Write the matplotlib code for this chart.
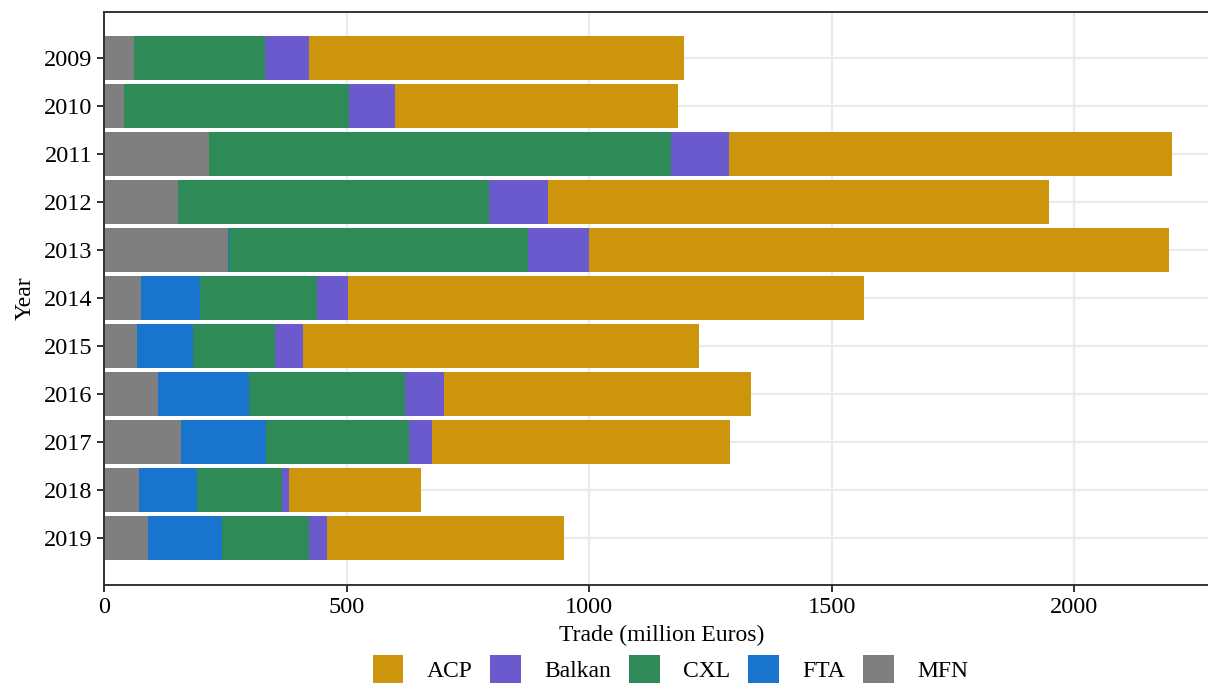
import matplotlib
matplotlib.use("Agg")
import matplotlib.pyplot as plt
import numpy as np

plt.rcParams['font.family'] = ['Liberation Serif', 'DejaVu Serif']

# data (million Euros)
years = ['2009', '2010', '2011', '2012', '2013', '2014', '2015', '2016', '2017', '2018', '2019']
mfn = [62, 41, 216, 153, 255, 76, 68, 111, 159, 72, 91]
fta = [0, 0, 0, 0, 3, 121, 116, 188, 174, 120, 152]
cxl = [270, 464, 953, 641, 616, 242, 169, 322, 296, 174, 180]
balkan = [91, 95, 120, 122, 126, 64, 57, 80, 47, 15, 37]
acp = [773, 582, 913, 1031, 1194, 1064, 817, 633, 615, 273, 489]

groups = ['ACP', 'Balkan', 'CXL', 'FTA', 'MFN']
colors = {'ACP': '#CD950C', 'Balkan': '#6A5ACD', 'CXL': '#2E8B57',
          'FTA': '#1874CD', 'MFN': '#7F7F7F'}
series = {'MFN': mfn, 'FTA': fta, 'CXL': cxl, 'Balkan': balkan, 'ACP': acp}

fig = plt.figure(figsize=(12.08, 6.84), dpi=100)
ax = fig.add_axes([104 / 1208, 99 / 684, 1116 / 1208, 573 / 684])

y = np.arange(len(years))
left = np.zeros(len(years))
bars = {}
for name in ['MFN', 'FTA', 'CXL', 'Balkan', 'ACP']:
    vals = np.array(series[name], dtype=float)
    bars[name] = ax.barh(y, vals, left=left, height=0.9, color=colors[name],
                         edgecolor='none', zorder=2)
    left += vals

ax.set_xlim(0, 2300)
ax.set_ylim(len(years) - 1 + 0.98, -0.96)
ax.set_yticks(y)
ax.set_yticklabels(years)
ax.set_xticks([0, 500, 1000, 1500, 2000])
ax.grid(True, color='#EBEBEB', linewidth=1.6, zorder=0)
ax.set_axisbelow(True)
for s in ax.spines.values():
    s.set_color('#333333')
    s.set_linewidth(1.4)
ax.tick_params(axis='both', colors='#333333', length=5, width=1.4,
               labelsize=17.5, labelcolor='black')

ax.set_xlabel('Trade (million Euros)', fontsize=17, labelpad=5)
ax.set_ylabel('Year', fontsize=17, labelpad=6)

handles = [bars[g] for g in groups]
fig.legend(handles, groups, loc='center', bbox_to_anchor=(0.555, 0.022), ncol=5,
           frameon=False, fontsize=17, handlelength=1.3, handleheight=1.45,
           handletextpad=1.0, columnspacing=0.75)

fig.savefig('out.png', dpi=100)
